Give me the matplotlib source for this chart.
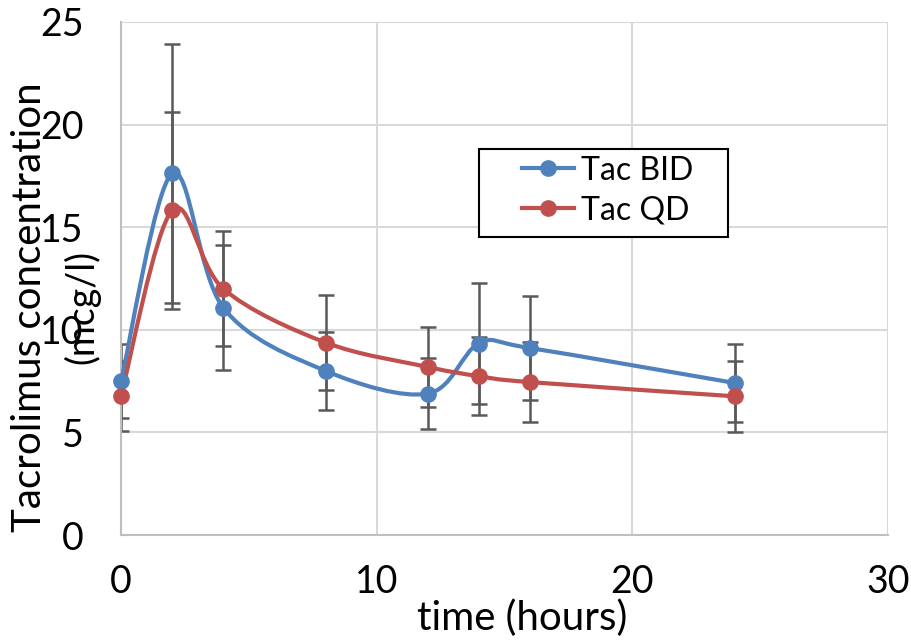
import numpy as np
import matplotlib
matplotlib.use("Agg")
import matplotlib.pyplot as plt
from matplotlib.path import Path
from matplotlib.patches import PathPatch, Rectangle
from matplotlib.lines import Line2D

plt.rcParams['font.family'] = ['Lato', 'DejaVu Sans']

time_h = [0, 2, 4, 8, 12, 14, 16, 24]
bid_mean = [7.49, 17.62, 11.08, 8.0, 6.89, 9.33, 9.11, 7.41]
bid_err = [1.8, 6.32, 3.03, 1.89, 1.74, 2.93, 2.52, 1.9]
qd_mean = [6.78, 15.82, 12.0, 9.38, 8.19, 7.74, 7.45, 6.76]
qd_err = [1.7, 4.81, 2.8, 2.3, 1.95, 1.9, 1.95, 1.72]
series_names = ["Tac BID", "Tac QD"]

BLUE = "#4F81BD"
RED = "#C0504D"
ERR = "#595959"
GRID = "#D9D9D9"


def smooth_path(x, y):
    # Bezier segments like Excel's "smoothed line"
    pts = np.column_stack([x, y]).astype(float)
    n = len(pts)
    verts = [pts[0]]
    codes = [Path.MOVETO]
    for i in range(n - 1):
        p0 = pts[i - 1] if i > 0 else pts[i]
        p1 = pts[i]
        p2 = pts[i + 1]
        p3 = pts[i + 2] if i + 2 < n else pts[i + 1]
        c1 = p1 + (p2 - p0) / 6.0
        c2 = p2 - (p3 - p1) / 6.0
        verts += [c1, c2, p2]
        codes += [Path.CURVE4] * 3
    return Path(verts, codes)


fig = plt.figure(figsize=(9.11, 6.41), dpi=100)
ax = fig.add_axes([121 / 911, 1 - 535 / 641, (888 - 121) / 911, (535 - 22) / 641])

ax.set_xlim(0, 30)
ax.set_ylim(0, 25)
ax.set_xticks([0, 10, 20, 30])
ax.set_yticks([0, 5, 10, 15, 20, 25])
ax.grid(True, color=GRID, linewidth=1.5)
ax.set_axisbelow(True)
for side in ["top", "right"]:
    ax.spines[side].set_visible(False)
for side in ["left", "bottom"]:
    ax.spines[side].set_color("#BFBFBF")
    ax.spines[side].set_linewidth(1.5)
ax.tick_params(length=0, labelsize=27)
ax.tick_params(axis="y", pad=27)
ax.tick_params(axis="x", pad=21)

for mean, err in [(bid_mean, bid_err), (qd_mean, qd_err)]:
    ax.errorbar(time_h, mean, yerr=err, fmt="none", ecolor=ERR,
                elinewidth=1.8, capsize=5.5, capthick=1.8, zorder=2)

for mean, col in [(bid_mean, BLUE), (qd_mean, RED)]:
    ax.add_patch(PathPatch(smooth_path(time_h, mean), facecolor="none",
                           edgecolor=col, linewidth=3, zorder=3))
    ax.plot(time_h, mean, "o", color=col, markersize=11, zorder=4,
            clip_on=False)

fig.text(522 / 911, 1 - 618 / 641, "time (hours)", ha="center", va="center",
         fontsize=29)
# y title, wrapped over two lines as in the original
fig.text(30 / 911, 1 - 307 / 641, "Tacrolimus concentration",
         rotation=90, ha="center", va="center", fontsize=29)
fig.text(82 / 911, 1 - 307 / 641, "(mcg/l)",
         rotation=90, ha="center", va="center", fontsize=27)

# legend box
fig.add_artist(Rectangle((479 / 911, 1 - 237 / 641), (728 - 479) / 911,
                         (237 - 149) / 641, transform=fig.transFigure,
                         facecolor="white", edgecolor="black", linewidth=1.5,
                         zorder=5))
handles = [Line2D([], [], color=c, linewidth=3, marker="o", markersize=11)
           for c in (BLUE, RED)]
leg = fig.legend(handles, series_names, loc="upper left",
                 bbox_to_anchor=(512 / 911, 1 - 146 / 641), frameon=False,
                 fontsize=23, handlelength=1.65, handletextpad=0.2,
                 labelspacing=0.3, borderpad=0.3, borderaxespad=0)
leg.set_zorder(6)

fig.savefig("out.png", dpi=100)
